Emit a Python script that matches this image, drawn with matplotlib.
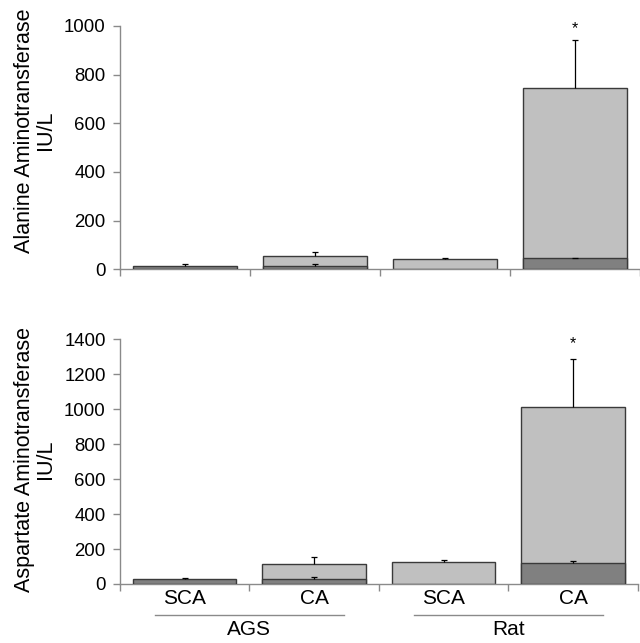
import numpy as np
import matplotlib
matplotlib.use("Agg")
import matplotlib.pyplot as plt
import matplotlib.transforms as mtransforms

plt.rcParams['font.family'] = ['Liberation Sans', 'DejaVu Sans']

categories = ['SCA', 'CA', 'SCA', 'CA']
groups = ['AGS', 'Rat']

# Alanine aminotransferase (IU/L)
alt_light = [np.nan, 55, 43, 746]
alt_light_err = [0, 17, 4, 196]
alt_dark = [13, 14, np.nan, 48]
alt_dark_err = [8, 7, 0, 0]

# Aspartate aminotransferase (IU/L)
ast_light = [np.nan, 113, 128, 1014]
ast_light_err = [0, 40, 10, 273]
ast_dark = [27, 29, np.nan, 121]
ast_dark_err = [6, 13, 0, 9]

alt_yticks = [0, 200, 400, 600, 800, 1000]
ast_yticks = [0, 200, 400, 600, 800, 1000, 1200, 1400]

LIGHT = '#c0c0c0'
DARK = '#808080'
EDGE = '#3a3a3a'
AXC = '#8a8a8a'

fig = plt.figure(figsize=(6.4, 6.43), dpi=100)
ax1 = fig.add_axes([0.1875, 0.5812, 0.8125, 0.3784])
ax2 = fig.add_axes([0.1875, 0.0918, 0.809, 0.3806])

x = np.arange(len(categories))


def errs(ax, vals, err, z):
    eb = ax.errorbar(x, vals, yerr=[np.zeros(len(x)), err], fmt='none', ecolor='black',
                     elinewidth=0.9, capsize=2, capthick=0.9, zorder=z)
    caps = eb[1]
    if len(caps) == 2:
        caps[0].set_visible(False)


def draw(ax, light, lerr, dark, derr, yticks, ymax):
    ax.bar(x, light, width=0.8, color=LIGHT, edgecolor=EDGE, linewidth=1.0, zorder=2)
    errs(ax, light, lerr, 3)
    ax.bar(x, dark, width=0.8, color=DARK, edgecolor=EDGE, linewidth=1.0, zorder=4)
    errs(ax, dark, derr, 5)
    ax.set_xlim(-0.5, len(x) - 0.5)
    ax.set_ylim(0, ymax)
    ax.set_yticks(yticks)
    ax.tick_params(axis='y', direction='out', length=5, width=1, color=AXC,
                   labelsize=13.4, pad=5.3)
    ax.set_xticks(x)
    ax.set_xticks(np.arange(-0.5, len(x), 1.0), minor=True)
    ax.tick_params(axis='x', which='major', length=0, labelsize=15, pad=3.3)
    ax.tick_params(axis='x', which='minor', direction='out', length=5, width=1, color=AXC)
    for s in ['top', 'right']:
        ax.spines[s].set_visible(False)
    for s in ['left', 'bottom']:
        ax.spines[s].set_color(AXC)
        ax.spines[s].set_linewidth(1)


draw(ax1, alt_light, alt_light_err, alt_dark, alt_dark_err, alt_yticks, 1000)
draw(ax2, ast_light, ast_light_err, ast_dark, ast_dark_err, ast_yticks, 1400)

ax1.set_xticklabels([''] * len(categories))
ax2.set_xticklabels(categories)

ax1.text(3, 988, '*', ha='center', va='center', fontsize=11.5, clip_on=False)
ax2.text(3, 1373, '*', ha='center', va='center', fontsize=11.5, clip_on=False)

trans = mtransforms.blended_transform_factory(ax2.transData, ax2.transAxes)
for gi, g in enumerate(groups):
    c = 2 * gi + 0.5
    ax2.plot([c - 0.73, c + 0.73], [-0.125, -0.125], color=AXC, lw=1,
             transform=trans, clip_on=False)
    ax2.text(c, -0.186, g, ha='center', va='center', fontsize=15, transform=trans)

fig.text(0.055, 0.797, 'Alanine Aminotransferase\nIU/L', rotation=90, ha='center',
         va='center', multialignment='center', fontsize=15.5, linespacing=1.0)
fig.text(0.055, 0.286, 'Aspartate Aminotransferase\nIU/L', rotation=90, ha='center',
         va='center', multialignment='center', fontsize=15.5, linespacing=1.0)

fig.savefig('out.png', dpi=100)
